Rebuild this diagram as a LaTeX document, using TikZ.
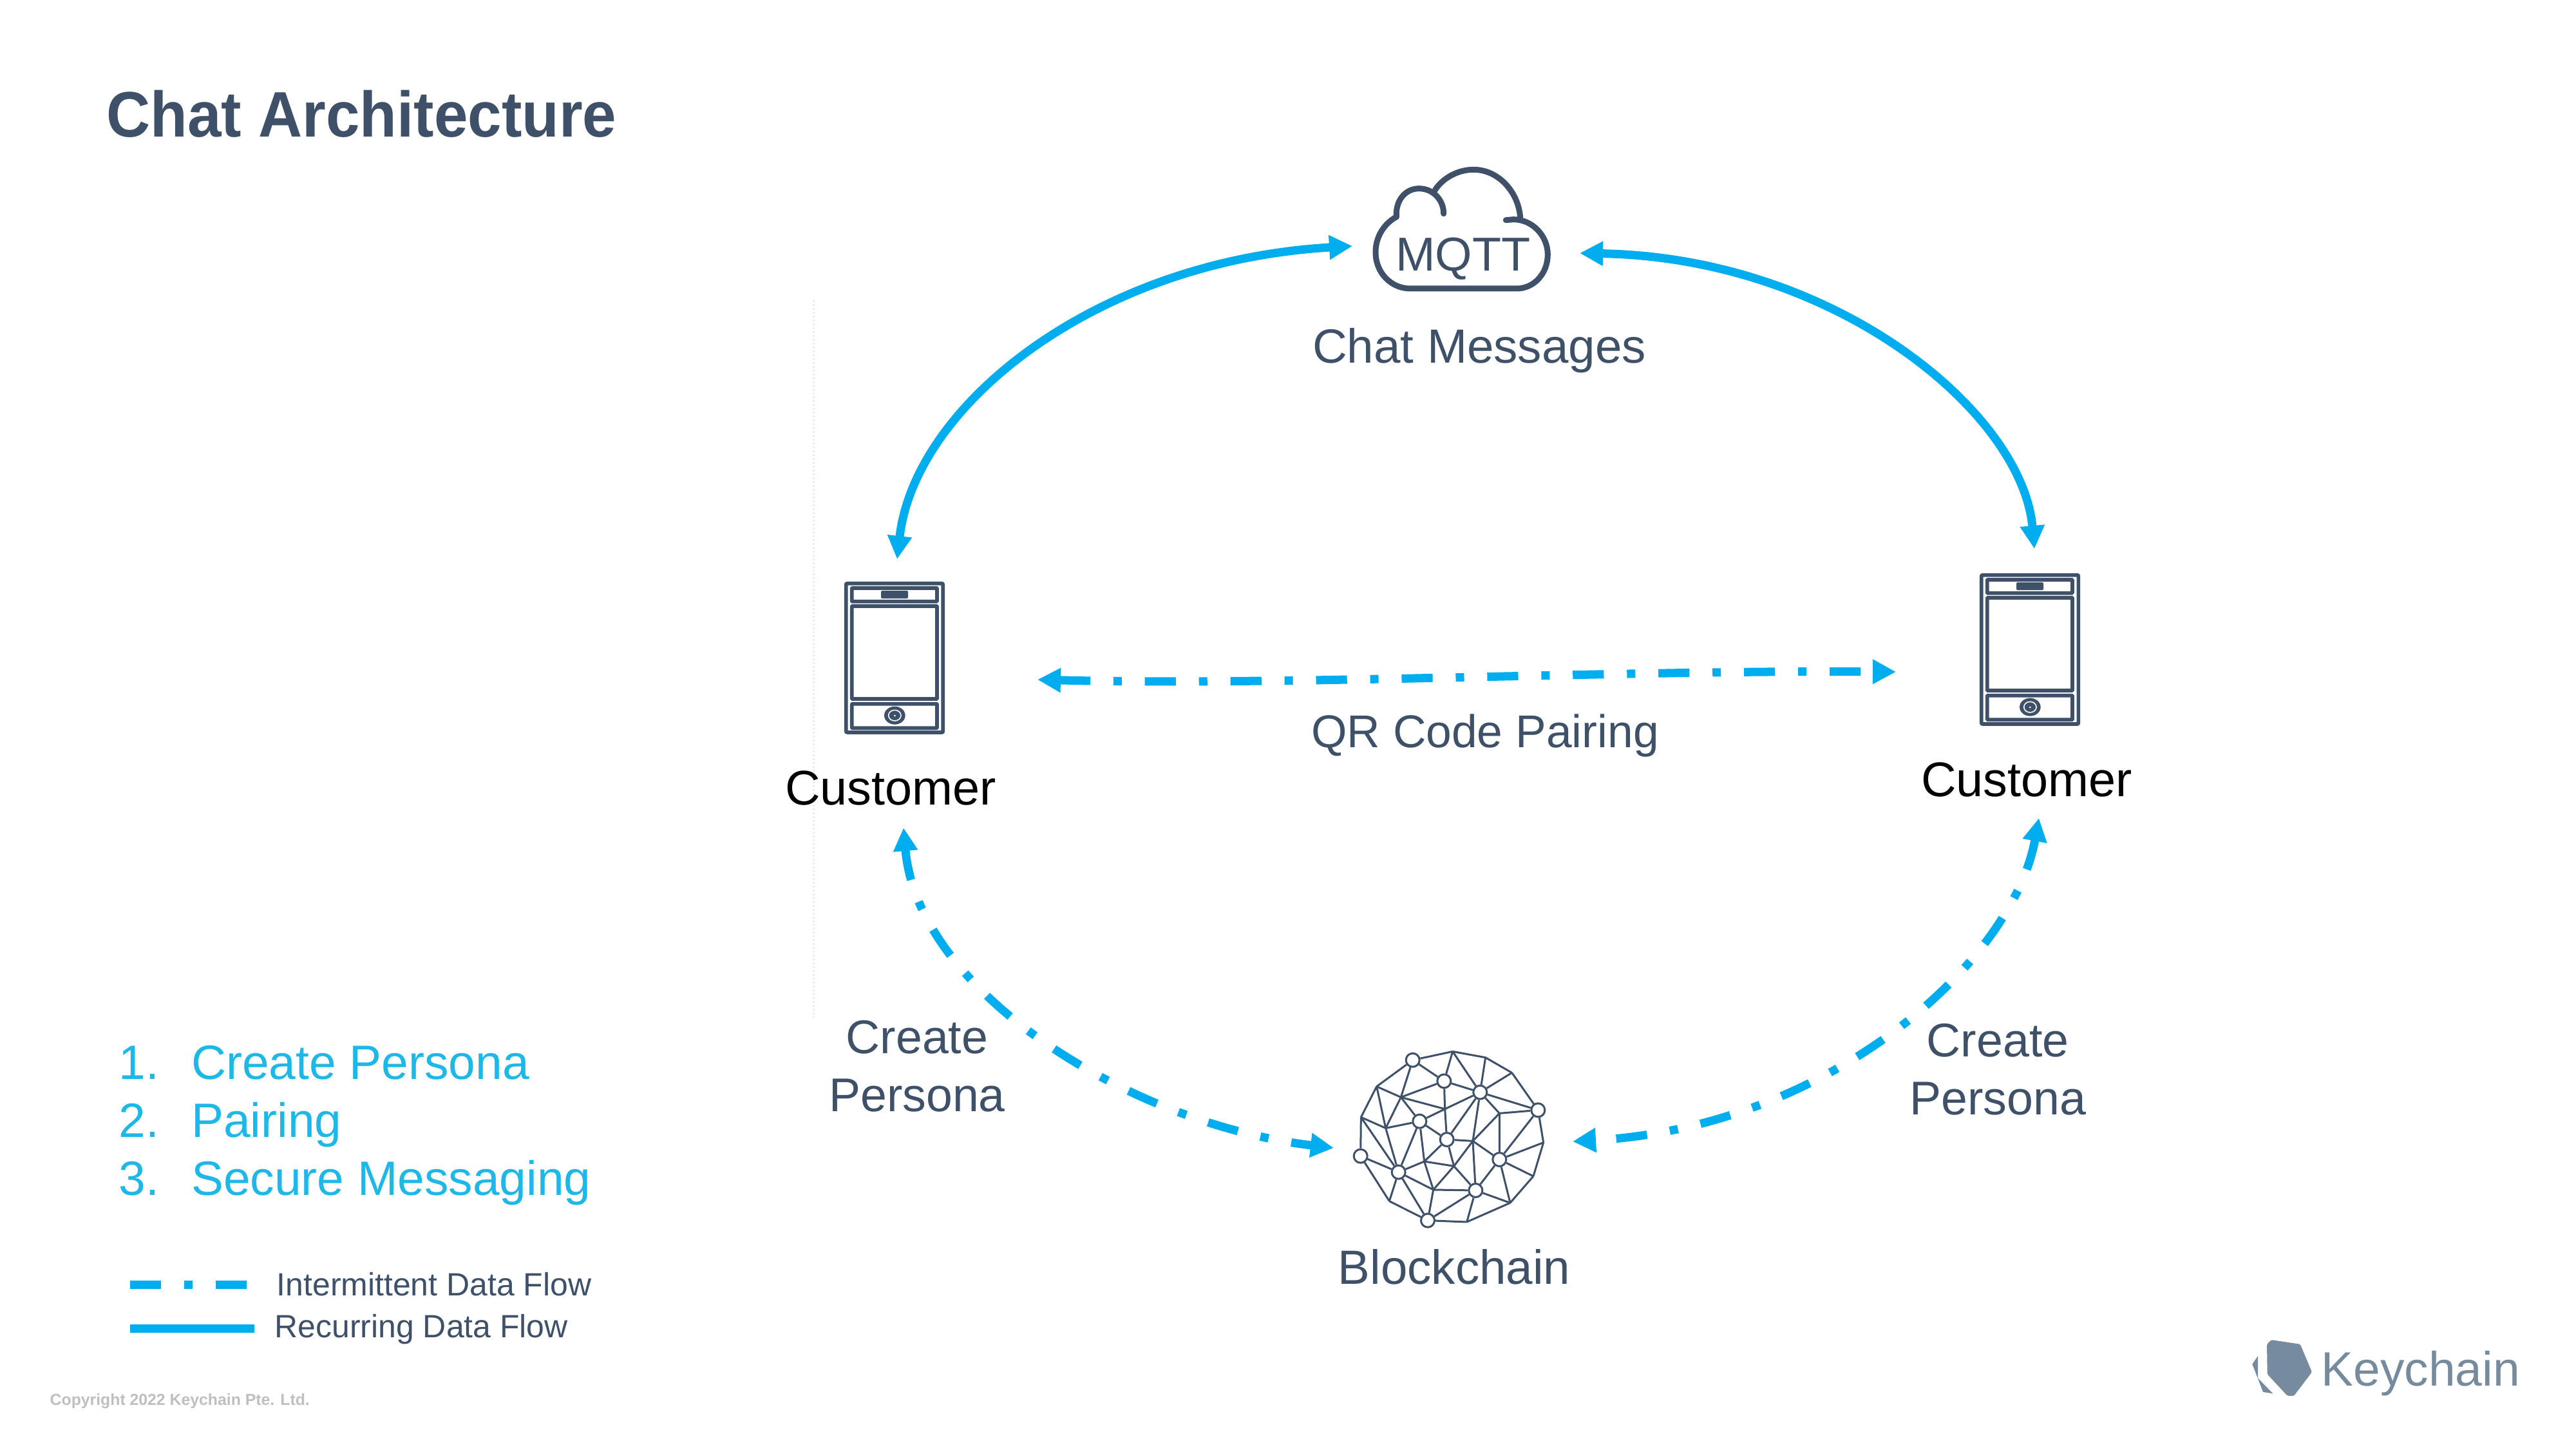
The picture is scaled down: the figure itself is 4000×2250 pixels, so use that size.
\documentclass[tikz,border=0pt]{standalone}
\usepackage{fontspec}
\setmainfont{Liberation Sans}
\newfontfamily\titlefont[FakeStretch=0.945]{Liberation Sans}
\usepackage{tikz}
\usetikzlibrary{arrows.meta,calc}
\definecolor{slate}{HTML}{3E5168}
\definecolor{flowblue}{HTML}{00AEEF}
\definecolor{listblue}{HTML}{1EB8E8}
\definecolor{logogrey}{HTML}{768C9E}
\definecolor{copygrey}{HTML}{BFBFBF}
\definecolor{faint}{HTML}{E6ECF0}
\tikzset{every picture/.append style={x=0.01cm,y=-0.01cm}}
\tikzset{txt/.style={inner sep=0pt,anchor=base,text=slate,font=\fontsize{21.2}{25.6}\selectfont}}
\tikzset{customer/.style={txt,text=black,font=\fontsize{21.5}{26}\selectfont}}
\tikzset{persona/.style={txt,anchor=center,align=center,font=\fontsize{20.9}{25.6}\selectfont}}
\tikzset{listitem/.style={txt,anchor=base west,text=listblue,font=\fontsize{21.3}{25}\selectfont}}
\tikzset{legend/.style={txt,anchor=base west,font=\fontsize{14.2}{18}\selectfont}}
\tikzset{flow/.style={draw=flowblue,line width=0.13cm,>={Triangle[length=0.36cm,width=0.36cm]},<->}}
\tikzset{intermittent/.style={dash pattern=on 13.7pt off 10.2pt on 3.7pt off 10.2pt}}
\tikzset{legendline/.style={draw=flowblue,line width=0.13cm}}
\tikzset{icon/.style={draw=slate,line width=0.057cm}}
\tikzset{cloudline/.style={draw=slate,line width=0.09cm,line cap=round}}
\tikzset{netedge/.style={draw=slate,line width=0.03cm}}
\tikzset{netnode/.style={circle,draw=slate,line width=0.03cm,inner sep=0pt,minimum size=0.21cm}}
\tikzset{phone/.pic={
  \draw[icon,rounded corners=0.02cm] (101,77) rectangle (553,771);
  \draw[icon,rounded corners=0.01cm] (128,99) rectangle (525,161);
  \draw[icon,rounded corners=0.01cm] (128,183) rectangle (525,615);
  \draw[icon,rounded corners=0.01cm] (128,638) rectangle (525,751);
  \fill[slate,rounded corners=0.02cm] (264,111) rectangle (390,147);
  \fill[slate] (328,692) ellipse [x radius=49,y radius=42];
  \draw[white,line width=0.016cm] (328,692) ellipse [x radius=29,y radius=25];
  \fill[white] (328,693) ellipse [x radius=5,y radius=4];
}}

\begin{document}
\begin{tikzpicture}
\useasboundingbox (0,0) rectangle (4000,2250);
\node (title) at (165,212)[txt,anchor=base west,font=\titlefont\bfseries\fontsize{28.4}{32}\selectfont]{Chat Architecture};

% faint rule
\draw[faint,line width=0.03cm,dash pattern=on 0.85pt off 0.85pt] (1263,466) -- (1263,1580);

% cloud
\begin{scope}[shift={(2050,220)},scale=0.3333]
\draw[cloudline] (865,365) -- (900,362) .. controls (990,362) and (1060,440) .. (1060,525) .. controls (1060,615) and (995,684) .. (915,684) -- (420,684) .. controls (330,684) and (258,610) .. (258,515) .. controls (258,440) and (300,380) .. (355,350);
\draw[cloudline] (355,350) .. controls (350,270) and (400,218) .. (460,218) .. controls (525,218) and (575,270) .. (575,335);
\draw[cloudline] (535,225) .. controls (570,170) and (640,130) .. (715,130) .. controls (830,130) and (925,235) .. (932,355);
\end{scope}
\node (mqtt) at (2272,420)[txt,font=\fontsize{21}{24}\selectfont]{MQTT};
\node (chat) at (2297,563)[txt]{Chat Messages};

% phones
\pic at (1280,880)[scale=0.3333]{phone};
\pic at (3043,867)[scale=0.3333]{phone};
\node (custL) at (1383,1249)[customer]{Customer};
\node (custR) at (3147,1236)[customer]{Customer};

% network
\begin{scope}[shift={(2070,1600)},scale=0.3333]
\foreach \n/\x/\y in {A/371/137,B/517/235,C/685/287,D/955/370,E/403/422,F/530/507,G/128/584,H/305/659,I/775/600,J/664/744,K/441/884}
  \node (\n) at (\x,\y)[netnode]{};
\foreach \n/\x/\y in {a/557/97,b/710/125,c/833/196,d/980/521,e/933/678,f/825/802,g/623/891,h/262/794,i/130/403,j/203/260,k/316/310,l/245/454,m/521/365,n/775/385,o/651/514,p/425/609,q/563/631,r/467/741}
  \coordinate (\n) at (\x,\y);
\foreach \u/\v in {A/a,a/b,b/c,c/D,D/d,d/e,e/f,f/g,g/K,K/h,h/G,G/i,i/j,j/A,
  A/k,A/B,a/B,a/C,b/C,c/C,B/k,B/C,B/m,C/m,k/m,j/k,j/l,i/l,k/l,k/E,l/E,E/m,E/F,E/p,E/H,l/H,i/H,G/H,m/F,C/F,C/o,C/n,C/D,n/D,n/o,n/I,D/I,d/I,e/I,f/I,o/I,o/F,F/p,F/q,o/q,o/J,I/J,p/q,p/H,p/r,q/r,q/J,H/r,H/h,H/K,r/K,r/J,J/K,J/g,J/f}
  \draw[netedge] (\u) -- (\v);
\end{scope}
\node (block) at (2258,1993)[txt]{Blockchain};

% flows
\coordinate (cloudL) at (2100,382);
\coordinate (cloudR) at (2453,393);
\coordinate (phoneLtop) at (1393,868);
\coordinate (phoneRtop) at (3159,852);
\coordinate (pairL) at (1611,1055);
\coordinate (pairR) at (2944,1043);
\coordinate (custLlow) at (1403,1285);
\coordinate (custRlow) at (3166,1270);
\coordinate (netL) at (2071,1782);
\coordinate (netR) at (2442,1772);
\draw[flow] (cloudL) .. controls (1700,405) and (1420,630) .. (phoneLtop);
\draw[flow] (cloudR) .. controls (2850,400) and (3140,640) .. (phoneRtop);
\draw[flow,intermittent] (pairL) .. controls (2000,1065) and (2500,1040) .. (pairR);
\draw[flow,intermittent] (custLlow) .. controls (1425,1540) and (1755,1745) .. (netL);
\draw[flow,intermittent] (custRlow) .. controls (3125,1495) and (2840,1750) .. (netR);

\node (qr) at (2306,1160)[txt,font=\fontsize{20.3}{24}\selectfont]{QR Code Pairing};
\node (createL) at (1424,1655)[persona]{Create\\Persona};
\node (createR) at (3102,1660)[persona]{Create\\Persona};

% steps
\foreach \n/\t/\y in {1/Create Persona/1675,2/Pairing/1765,3/Secure Messaging/1855}
  \node (item\n) at (184,\y)[listitem]{\makebox[32.0pt][l]{\n.}\t};

% legend
\coordinate (dashA) at (202,1994);
\coordinate (dashB) at (384,1994);
\coordinate (solidA) at (202,2062);
\coordinate (solidB) at (395,2062);
\draw[legendline,intermittent] (dashA) -- (dashB);
\draw[legendline] (solidA) -- (solidB);
\node (legI) at (429,2011)[legend]{Intermittent Data Flow};
\node (legR) at (426,2076)[legend]{Recurring Data Flow};

\node (copy) at (77,2181)[txt,anchor=base west,text=copygrey,font=\bfseries\fontsize{7.05}{9}\selectfont]{Copyright 2022 Keychain Pte. Ltd.};

% logo
\begin{scope}[shift={(3480,2050)},scale=0.3333]
\fill[logogrey,rounded corners=0.02cm] (120,110) -- (140,90) -- (275,110) -- (330,240) -- (245,352) -- (215,350) -- (122,250) -- cycle;
\fill[logogrey] (78,165) -- (52,203) -- (102,333) -- (148,340) -- (78,268) -- cycle;
\end{scope}
\node (keychain) at (3604,2151)[txt,anchor=base west,text=logogrey,font=\fontsize{21.3}{24}\selectfont]{Keychain};
\end{tikzpicture}
\end{document}
